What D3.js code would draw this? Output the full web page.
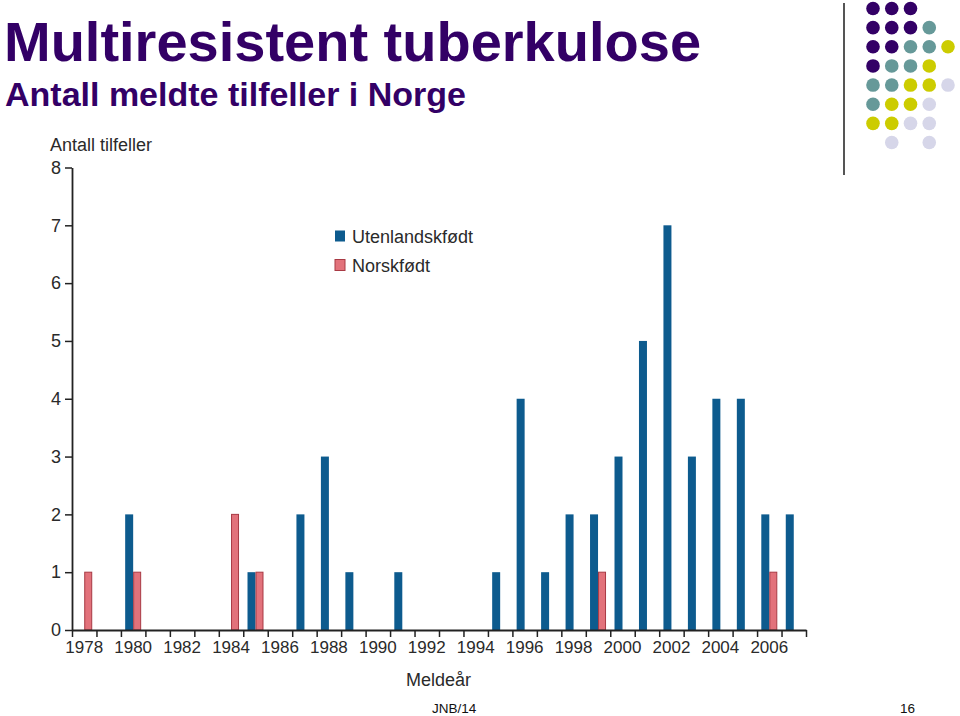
<!DOCTYPE html>
<html>
<head>
<meta charset="utf-8">
<script src="https://cdn.jsdelivr.net/npm/d3@7/dist/d3.min.js"></script>
<style>
  html, body { margin: 0; padding: 0; background: #fff; }
  svg { display: block; }
</style>
</head>
<body>
<svg id="chart" width="960" height="716"></svg>
<script>
// ---- Data ----
const years = d3.range(1978, 2008);
const tickYears = [1978, 1980, 1982, 1984, 1986, 1988, 1990, 1992, 1994, 1996, 1998, 2000, 2002, 2004, 2006];
const seriesNames = ["Utenlandskfødt", "Norskfødt"];
const utenlandskfodt = [0,0,2,0,0,0,0,1,0,2,3,1,0,1,0,0,0,1,4,1,2,2,3,5,7,3,4,4,2,2];
const norskfodt      = [1,0,1,0,0,0,2,1,0,0,0,0,0,0,0,0,0,0,0,0,0,1,0,0,0,0,0,0,1,0];
const yTicks = [0,1,2,3,4,5,6,7,8];
const titleText = "Multiresistent tuberkulose";
const subtitleText = "Antall meldte tilfeller i Norge";
const yTitle = "Antall tilfeller";
const xTitle = "Meldeår";
const footerLeft = "JNB/14";
const footerRight = "16";
// decorative dot grid: rows of colour codes (P purple, T teal, Y yellow, L lavender, - empty)
const dotRows = ["PPP--", "PPPT-", "PPTTY", "PTTY-", "TTYYL", "TYYL-", "YYLL-", "-L-L-"];

const colors = { "Utenlandskfødt": "#0d5b8e", "Norskfødt": "#e2727b" };
const strokes = { "Utenlandskfødt": "#0d5b8e", "Norskfødt": "#a83a44" };
const dotColors = { P: "#330066", T: "#669999", Y: "#cccc00", L: "#d6d6e9" };

const svg = d3.select("#chart");
const textColor = "#2a2a2a";
const chartFont = "'Liberation Sans', Arial, sans-serif";

// ---- Title ----
svg.append("text").attr("x", 4).attr("y", 61)
  .attr("font-family", chartFont).attr("font-weight", "bold")
  .attr("font-size", 56).attr("fill", "#330066").text(titleText);
svg.append("text").attr("x", 5).attr("y", 106)
  .attr("font-family", chartFont).attr("font-weight", "bold")
  .attr("font-size", 34).attr("fill", "#330066").text(subtitleText);

// ---- Decoration ----
svg.append("line").attr("x1", 844).attr("x2", 844).attr("y1", 3).attr("y2", 175)
  .attr("stroke", "#555").attr("stroke-width", 2);
const dotX = d3.scaleLinear().domain([0, 4]).range([873, 948]);
const dotY = d3.scaleLinear().domain([0, 7]).range([8.5, 142.5]);
dotRows.forEach((row, r) => {
  row.split("").forEach((c, k) => {
    if (c === "-") return;
    svg.append("circle").attr("cx", dotX(k)).attr("cy", dotY(r)).attr("r", 6.8)
      .attr("fill", dotColors[c]);
  });
});

// ---- Scales ----
const x = d3.scaleBand().domain(years).range([72, 806]).padding(0);
const xInner = d3.scaleBand().domain(seriesNames).range([0, x.bandwidth()])
  .paddingInner(0).paddingOuter(0.53);
const y = d3.scaleLinear().domain([0, 8]).range([630, 167.5]);

const g = svg.append("g");

// ---- Bars ----
const data = years.map((yr, i) => ({ year: yr, values: [
  { key: "Utenlandskfødt", value: utenlandskfodt[i] },
  { key: "Norskfødt", value: norskfodt[i] }
]}));

g.selectAll("g.year").data(data).join("g")
  .attr("class", "year")
  .attr("transform", d => `translate(${x(d.year)},0)`)
  .selectAll("rect").data(d => d.values.filter(v => v.value > 0)).join("rect")
  .attr("x", v => xInner(v.key) + (v.key === "Norskfødt" ? 0.5 : 0))
  .attr("width", v => xInner.bandwidth() - (v.key === "Norskfødt" ? 1 : 0))
  .attr("y", v => y(v.value))
  .attr("height", v => y(0) - y(v.value))
  .attr("fill", v => colors[v.key])
  .attr("stroke", v => v.key === "Norskfødt" ? strokes[v.key] : "none")
  .attr("stroke-width", 1);

// ---- Y axis ----
const yAxis = d3.axisLeft(y).tickValues(yTicks).tickSize(7).tickPadding(4).tickSizeOuter(0);
const yg = svg.append("g").attr("transform", "translate(72,0)").call(yAxis);
yg.select(".domain").attr("stroke", "#222").attr("stroke-width", 1.8);
yg.selectAll(".tick line").attr("stroke", "#222").attr("stroke-width", 1.5);
yg.selectAll(".tick text").attr("font-family", chartFont).attr("font-size", 18)
  .attr("fill", textColor);

// ---- X axis ----
const xTickScale = d3.scaleLinear().domain([1978, 2008]).range([72, 806]);
const xAxisTicks = d3.axisBottom(xTickScale).tickValues(d3.range(1978, 2009))
  .tickSize(7).tickFormat("").tickSizeOuter(0);
const xg = svg.append("g").attr("transform", "translate(0,630)").call(xAxisTicks);
xg.select(".domain").attr("stroke", "#222").attr("stroke-width", 1.8);
xg.selectAll(".tick line").attr("stroke", "#222").attr("stroke-width", 1.5);

const xLabelAxis = d3.axisBottom(x).tickValues(tickYears).tickSize(0).tickPadding(11);
const xl = svg.append("g").attr("transform", "translate(0,630)").call(xLabelAxis);
xl.select(".domain").remove();
xl.selectAll(".tick text").attr("font-family", chartFont).attr("font-size", 17)
  .attr("fill", textColor);

// ---- Axis titles ----
svg.append("text").attr("x", 50).attr("y", 151).attr("font-family", chartFont)
  .attr("font-size", 18).attr("fill", textColor).text(yTitle);
svg.append("text").attr("x", 406).attr("y", 686).attr("font-family", chartFont)
  .attr("font-size", 18).attr("fill", textColor).text(xTitle);

// ---- Legend ----
const legend = svg.append("g");
seriesNames.forEach((name, i) => {
  const ly = 236 + i * 29;
  legend.append("rect").attr("x", 335).attr("y", ly - 5.5).attr("width", 10).attr("height", 11)
    .attr("fill", colors[name])
    .attr("stroke", name === "Norskfødt" ? strokes[name] : "none").attr("stroke-width", 1);
  legend.append("text").attr("x", 352).attr("y", ly + 6.5).attr("font-family", chartFont)
    .attr("font-size", 18).attr("fill", textColor).text(name);
});

// ---- Footer ----
svg.append("text").attr("x", 432).attr("y", 713).attr("font-family", chartFont)
  .attr("font-size", 13.5).attr("fill", "#111").text(footerLeft);
svg.append("text").attr("x", 900).attr("y", 713).attr("font-family", chartFont)
  .attr("font-size", 13.5).attr("fill", "#111").text(footerRight);
</script>
</body>
</html>
